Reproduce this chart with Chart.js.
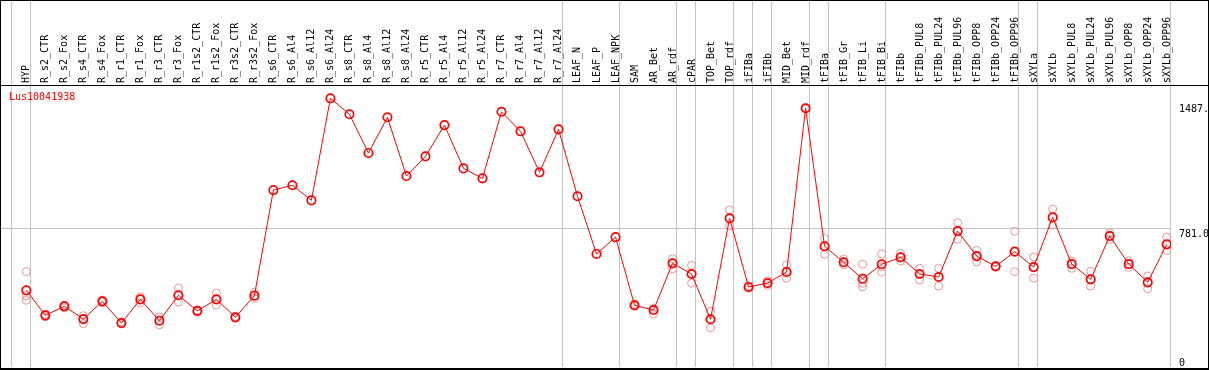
<!DOCTYPE html>
<html>
<head>
<meta charset="utf-8">
<script src="https://cdn.jsdelivr.net/npm/chart.js@4.4.1/dist/chart.umd.min.js"></script>
<style>
  html, body { margin: 0; padding: 0; background: #fff; }
  canvas { display: block; }
</style>
</head>
<body>
<canvas id="chart" width="1209" height="370"></canvas>
<script>
// --- data ---
const geneName = 'Lus10041938';

const samples = [
  'HYP',
  'R_s2_CTR', 'R_s2_Fox', 'R_s4_CTR', 'R_s4_Fox', 'R_r1_CTR', 'R_r1_Fox', 'R_r3_CTR', 'R_r3_Fox',
  'R_r1s2_CTR', 'R_r1s2_Fox', 'R_r3s2_CTR', 'R_r3s2_Fox',
  'R_s6_CTR', 'R_s6_Al4', 'R_s6_Al12', 'R_s6_Al24', 'R_s8_CTR', 'R_s8_Al4', 'R_s8_Al12', 'R_s8_Al24',
  'R_r5_CTR', 'R_r5_Al4', 'R_r5_Al12', 'R_r5_Al24', 'R_r7_CTR', 'R_r7_Al4', 'R_r7_Al12', 'R_r7_Al24',
  'LEAF_N', 'LEAF_P', 'LEAF_NPK',
  'SAM', 'AR_Bet', 'AR_rdf',
  'cPAR',
  'TOP_Bet', 'TOP_rdf',
  'iFIBa',
  'iFIBb',
  'MID_Bet', 'MID_rdf',
  'tFIBa',
  'tFIB_Gr', 'tFIB_Li', 'tFIB_Bi',
  'tFIBb', 'tFIBb_PUL8', 'tFIBb_PUL24', 'tFIBb_PUL96', 'tFIBb_OPP8', 'tFIBb_OPP24', 'tFIBb_OPP96',
  'sXYLa',
  'sXYLb', 'sXYLb_PUL8', 'sXYLb_PUL24', 'sXYLb_PUL96', 'sXYLb_OPP8', 'sXYLb_OPP24', 'sXYLb_OPP96'
];

// first sample index of each tissue group (last entry = end)
const groupStarts = [0, 1, 29, 32, 35, 36, 38, 39, 40, 42, 43, 46, 53, 54, 61];

const meanValues = [
  432,
  291, 342, 270, 370, 248, 381, 261, 404,
  316, 381, 280, 402,
  997, 1024, 939, 1514, 1424, 1206, 1407, 1076,
  1187, 1363, 1119, 1063, 1438, 1328, 1097, 1339,
  962, 637, 732,
  348, 321, 584,
  524,
  269, 838,
  451,
  473,
  535, 1458,
  680,
  590, 497, 579,
  618, 524, 507, 766, 625, 567, 650,
  563,
  843, 580, 494, 738, 580, 477, 691
];

const rep1 = [
  537,
  298, 349, 289, 377, 254, 396, 282, 445,
  321, 417, 285, 421,
  null, null, null, null, null, null, null, null,
  null, null, null, null, null, null, null, null,
  null, null, null,
  354, 331, 610,
  573,
  314, 885,
  456,
  486,
  575, 1460,
  725,
  608, 580, 637,
  641, 556, 556, 813, 657, 570, 765,
  620,
  890, 597, 539, 757, 597, 513, 732
];

const rep2 = [
  402,
  291, 343, 270, 370, 248, 381, 261, 404,
  316, 381, 280, 402,
  null, null, null, null, null, null, null, null,
  null, null, null, null, null, null, null, null,
  null, null, null,
  348, 321, 584,
  524,
  269, 838,
  451,
  473,
  535, 1458,
  680,
  590, 472, 565,
  618, 524, 507, 766, 625, 567, 650,
  563,
  843, 580, 494, 738, 580, 477, 691
];

const rep3 = [
  376,
  283, 333, 244, 363, 242, 362, 237, 365,
  310, 349, 276, 387,
  null, null, null, null, null, null, null, null,
  null, null, null, null, null, null, null, null,
  null, null, null,
  342, 299, 554,
  472,
  221, 794,
  445,
  460,
  500, 1456,
  635,
  576, 452, 535,
  597, 490, 456, 720, 592, 564, 537,
  500,
  800, 556, 455, 719, 562, 441, 657
];

const yTickValues = [0, 781.0, 1487];
const yTickLabels = ['0', '781.0', '1487.'];
const yMax = 1589;

// --- helpers ---
const MONO = '"DejaVu Sans Mono", monospace';
const RED = '#ff0000';
const REP = '#ee9494';
const GRID = '#c4c4c4';

function toPoints(values) {
  return values.map((v, i) => ({ x: i, y: v }));
}

function repDataset(values) {
  return {
    type: 'line',
    data: toPoints(values),
    showLine: false,
    pointRadius: 4,
    pointBorderWidth: 1,
    pointBorderColor: REP,
    pointBackgroundColor: 'transparent',
    spanGaps: false
  };
}

// separators, frame, header line, gene name, label placement
const layoutPlugin = {
  id: 'layoutPlugin',
  beforeDraw(chart) {
    const ctx = chart.ctx;
    const xs = chart.scales.x;
    const ys = chart.scales.y;
    const bottom = chart.chartArea.bottom;

    // group separators run through header and plot
    ctx.save();
    ctx.strokeStyle = GRID;
    ctx.lineWidth = 1;
    groupStarts.forEach(k => {
      const px = Math.round(xs.getPixelForValue(k - 0.805)) + 0.5;
      ctx.beginPath();
      ctx.moveTo(px, 0);
      ctx.lineTo(px, bottom);
      ctx.stroke();
    });
    ctx.restore();

    // sample labels: read bottom-to-top, ending just above the header line
    xs.getLabelItems().forEach((item, i) => {
      const px = xs.getPixelForValue(xs.ticks[i].value);
      item.textOffset = 0;
      item.options.rotation = -Math.PI / 2;
      item.options.textAlign = 'left';
      item.options.textBaseline = 'middle';
      item.options.translation = [Math.round(px) + 0.5, chart.chartArea.top - 2];
    });

    // value labels hang below their line, zero sits on the bottom
    ys.getLabelItems().forEach((item, i) => {
      const v = ys.ticks[i].value;
      const py = ys.getPixelForValue(v);
      item.options.textAlign = 'left';
      if (v === 0) {
        item.options.textBaseline = 'alphabetic';
        item.options.translation = [item.options.translation[0], py - 1];
      } else {
        item.options.textBaseline = 'top';
        item.options.translation = [item.options.translation[0], py + 1];
      }
    });
  },
  afterDraw(chart) {
    const ctx = chart.ctx;
    const w = chart.width;
    const h = chart.height;
    ctx.save();
    ctx.fillStyle = '#000';
    ctx.fillRect(0, 0, w, 1);
    ctx.fillRect(0, 0, 1, h);
    ctx.fillRect(w - 1, 0, 1, h);
    ctx.fillRect(0, h - 2, w, 2);
    ctx.fillRect(0, chart.chartArea.top, w, 1);

    ctx.fillStyle = RED;
    ctx.font = '10px ' + MONO;
    ctx.textBaseline = 'middle';
    ctx.textAlign = 'left';
    ctx.fillText(geneName, 9, 97);
    ctx.restore();
  }
};

const ctx = document.getElementById('chart').getContext('2d');
const chart = new Chart(ctx, {
  type: 'line',
  data: {
    datasets: [
      {
        data: toPoints(meanValues),
        borderColor: RED,
        borderWidth: 1,
        pointRadius: 4.2,
        pointBorderWidth: 1.7,
        pointBorderColor: RED,
        pointBackgroundColor: 'transparent',
        tension: 0
      },
      repDataset(rep1),
      repDataset(rep2),
      repDataset(rep3)
    ]
  },
  options: {
    responsive: false,
    animation: false,
    events: [],
    layout: { autoPadding: false, padding: { left: 1, right: 0, top: 0, bottom: 3 } },
    plugins: {
      legend: { display: false },
      tooltip: { enabled: false },
      title: { display: false }
    },
    scales: {
      x: {
        type: 'linear',
        position: 'top',
        min: -1.331,
        max: 60.226,
        afterBuildTicks: (scale) => {
          scale.ticks = samples.map((_, i) => ({ value: i }));
        },
        afterFit: (scale) => {
          scale.height = 85;
          scale.paddingLeft = 0;
          scale.paddingRight = 0;
        },
        grid: { display: false, drawTicks: false },
        border: { display: false },
        ticks: {
          autoSkip: false,
          minRotation: 90,
          maxRotation: 90,
          padding: 2,
          color: '#000',
          font: { family: MONO, size: 10 },
          callback: (v) => samples[Math.round(v)]
        }
      },
      y: {
        type: 'linear',
        position: 'right',
        min: 0,
        max: yMax,
        afterBuildTicks: (scale) => {
          scale.ticks = yTickValues.map(v => ({ value: v }));
        },
        afterFit: (scale) => {
          scale.width = 38;
          scale.paddingTop = 0;
          scale.paddingBottom = 0;
        },
        grid: {
          drawTicks: false,
          color: (c) => (c.tick && c.tick.value === 781.0 ? GRID : 'rgba(0,0,0,0)'),
          lineWidth: 1
        },
        border: { display: false },
        ticks: {
          padding: 8,
          color: '#000',
          font: { family: MONO, size: 10 },
          callback: (v) => yTickLabels[yTickValues.indexOf(v)]
        }
      }
    }
  },
  plugins: [layoutPlugin]
});
</script>
</body>
</html>
